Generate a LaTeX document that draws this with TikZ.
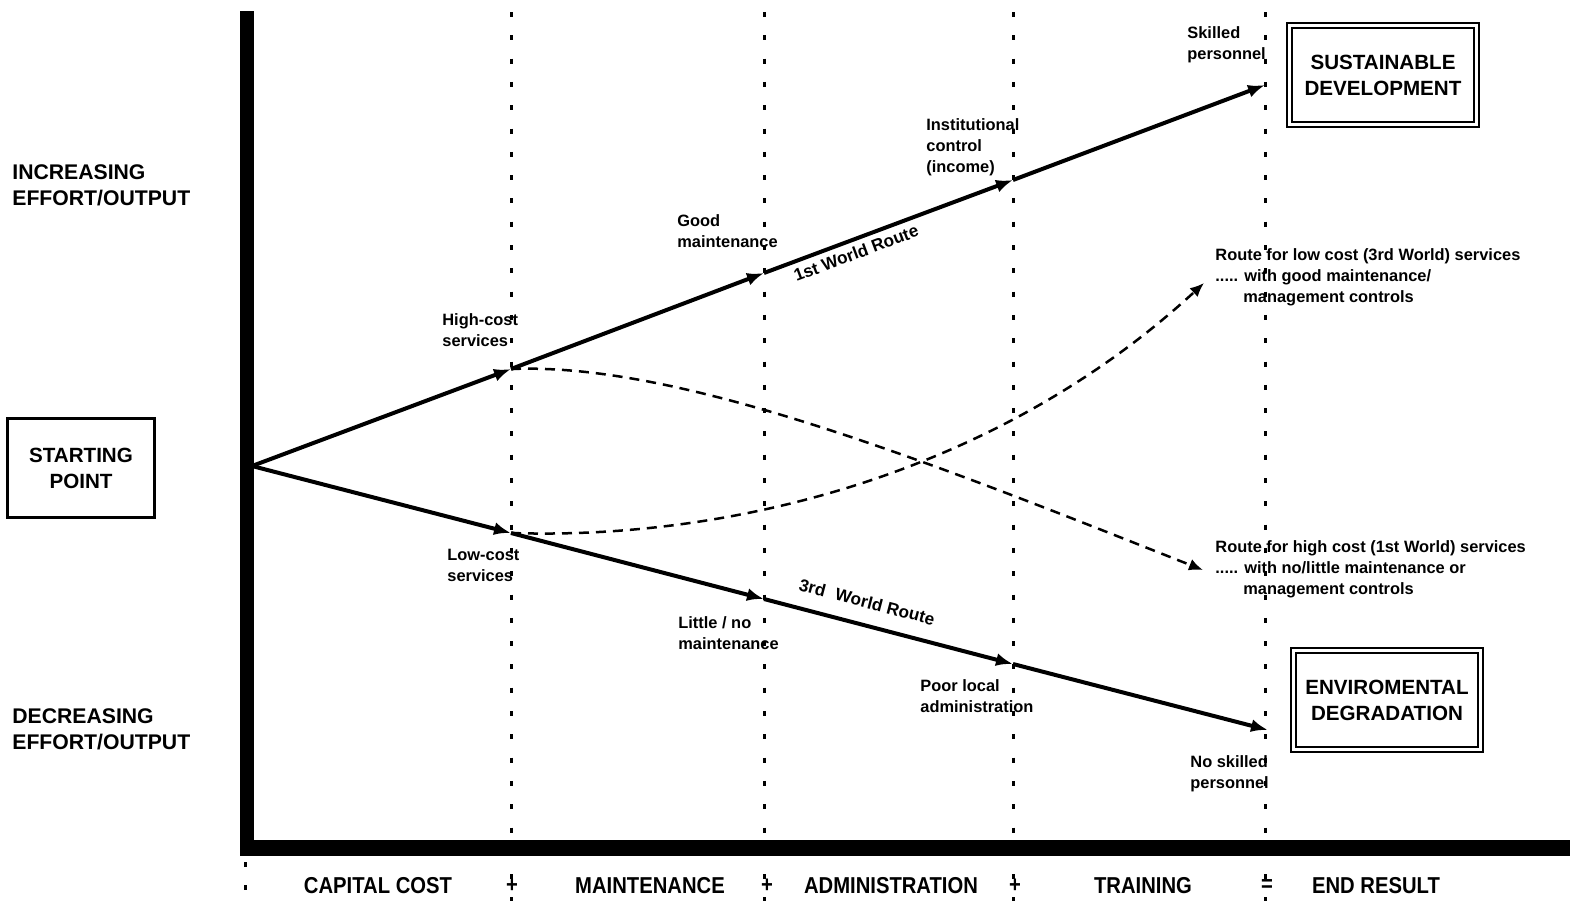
\documentclass[tikz,border=0pt]{standalone}
\usepackage{fontspec}
\setmainfont{Liberation Sans}
\newfontfamily\axisfont{Liberation Sans}[FakeStretch=0.88]
\usetikzlibrary{arrows.meta}
\begin{document}
\begin{tikzpicture}[x=0.5pt,y=-0.5pt,
  notetext/.style={anchor=west, align=left, inner sep=0pt, font=\bfseries\fontsize{8.2}{10.5}\selectfont},
  sidetext/.style={anchor=west, align=left, inner sep=0pt, font=\bfseries\fontsize{10.6}{13}\selectfont},
  resultbox/.style={draw, line width=1.1pt, double, double distance=1.2pt, minimum width=93.5pt, minimum height=49.5pt, align=center, font=\bfseries\fontsize{10.3}{13}\selectfont},
  startbox/.style={draw, line width=1.25pt, minimum width=73.5pt, minimum height=49.5pt, align=center, font=\bfseries\fontsize{10.3}{13}\selectfont},
  steptext/.style={inner sep=0pt, font=\axisfont\bfseries\fontsize{11.5}{13}\selectfont},
  routename/.style={inner sep=0pt, font=\bfseries\fontsize{8.6}{10}\selectfont},
  guideline/.style={line width=1.5pt, dash pattern=on 2.5pt off 9.15pt},
  routeline/.style={line width=2pt, -{Latex[length=8.5pt,width=6.5pt]}},
  crossline/.style={line width=1.25pt, dash pattern=on 5pt off 3.5pt, -{Latex[length=7pt,width=6pt]}},
]
\useasboundingbox[fill=white] (0,0) rectangle (1570,901);

% stage boundaries
\foreach \gx in {511,764,1013,1265}
  \draw[guideline] (\gx,12) -- (\gx,901);
\draw[guideline] (245,862) -- (245,901);

% axes
\fill (240,11) rectangle (254,856);
\fill (240,840) rectangle (1570,856);

% route points
\coordinate (o) at (252,466);
\coordinate (h1) at (511,369);
\coordinate (h2) at (764,273);
\coordinate (h3) at (1013,180);
\coordinate (h4) at (1265,85);
\coordinate (l1) at (511,533);
\coordinate (l2) at (764,599);
\coordinate (l3) at (1013,664);
\coordinate (l4) at (1268,730);
\coordinate (hc) at (1203,570);
\coordinate (lc) at (1204,283);

% 1st World route
\draw[routeline] (o) -- (h1);
\draw[routeline] (h1) -- (h2);
\draw[routeline] (h2) -- (h3);
\draw[routeline] (h3) -- (h4);
% 3rd World route
\draw[routeline] (o) -- (l1);
\draw[routeline] (l1) -- (l2);
\draw[routeline] (l2) -- (l3);
\draw[routeline] (l3) -- (l4);

% crossing routes
\draw[crossline] (h1) .. controls (680,362) and (930,462) .. (hc);
\draw[crossline] (l1) .. controls (720,540) and (990,480) .. (lc);

% route names
\node[routename, rotate=20.6] (firstname) at (856,253) {1st World Route};
\node[routename, rotate=-14.6] (thirdname) at (867,602) {3rd\,\, World Route};

% stage notes
\node[notetext] (skilled) at (1187,45) {Skilled\\personnel};
\node[notetext] (institution) at (926,147) {Institutional\\control\\(income)};
\node[notetext] (goodmaint) at (677,231) {Good\\maintenance};
\node[notetext] (highcost) at (442,330) {High-cost\\services};
\node[notetext] (lowcost) at (447,565) {Low-cost\\services};
\node[notetext] (littlemaint) at (678,633) {Little / no\\maintenance};
\node[notetext] (pooradmin) at (920,696) {Poor local\\administration};
\node[notetext] (noskilled) at (1190,774) {No skilled\\personnel};
\node[notetext] (lowroute) at (1215,277) {Route for low cost (3rd World) services\\..... with good maintenance/\\\hspace*{14pt}management controls};
\node[notetext] (highroute) at (1215,569) {Route for high cost (1st World) services\\..... with no/little maintenance or\\\hspace*{14pt}management controls};

% left side
\node[sidetext] (increasing) at (12,185) {INCREASING\\EFFORT/OUTPUT};
\node[sidetext] (decreasing) at (12,729) {DECREASING\\EFFORT/OUTPUT};
\node[startbox] (start) at (81,468) {STARTING\\POINT};

% outcomes
\node[resultbox] (sustainable) at (1383,75) {SUSTAINABLE\\DEVELOPMENT};
\node[resultbox] (degradation) at (1387,700) {ENVIROMENTAL\\DEGRADATION};

% stage sum
\node[steptext] (capital) at (378,886) {CAPITAL COST};
\node[steptext] (plusa) at (512,886) {+};
\node[steptext] (maintenance) at (650,886) {MAINTENANCE};
\node[steptext] (plusb) at (767,886) {+};
\node[steptext] (administration) at (891,886) {ADMINISTRATION};
\node[steptext] (plusc) at (1015,886) {+};
\node[steptext] (training) at (1143,886) {TRAINING};
\node[steptext] (equals) at (1267,886) {=};
\node[steptext] (endresult) at (1376,886) {END RESULT};
\end{tikzpicture}
\end{document}
